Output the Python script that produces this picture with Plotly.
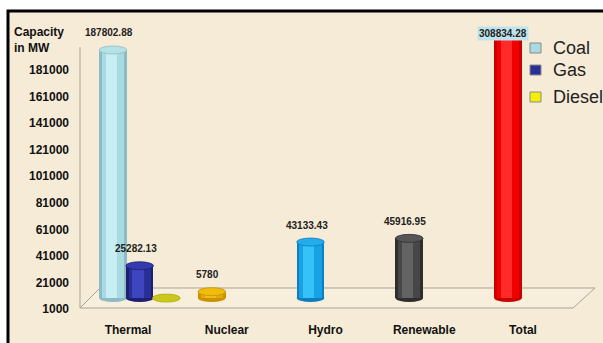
import plotly.graph_objects as go

# ---- data -------------------------------------------------------------
categories = ["Thermal", "Nuclear", "Hydro", "Renewable", "Total"]
thermal_series = ["Coal", "Gas", "Diesel"]
thermal_values = [187802.88, 25282.13, 918.89]
other_categories = ["Nuclear", "Hydro", "Renewable", "Total"]
other_values = [5780, 43133.43, 45916.95, 308834.28]
y_ticks = list(range(1000, 181001, 20000))

# ---- geometry (pixels of the 603x343 canvas) -------------------------
W, H = 603, 343
PLOT_L, PLOT_R = 80, 600
PLOT_TOP, PLOT_BOT = 35, 309
CAT_STEP = 98.75          # px between categories
LABEL_X0 = 128            # px of first category label
DEPTH_X, DEPTH_Y = 15, 11 # perspective shift of the bars vs. the axes
Y0, Y1 = 1000, 181000
PX_PER_UNIT = (309 - 70) / (Y1 - Y0)
BASE = 1000
BAR_W = 0.28
GROUP_STEP = 0.27
ELL_H = 4 / PX_PER_UNIT   # half height of cylinder caps, in data units

def px(x):
    return x / W

def py(y):
    return 1 - y / H

y_range = [BASE, BASE + (PLOT_BOT - PLOT_TOP) / PX_PER_UNIT]
y2_range = [y_range[0] - DEPTH_Y / PX_PER_UNIT, y_range[1] - DEPTH_Y / PX_PER_UNIT]
x_range = [-(LABEL_X0 - PLOT_L) / CAT_STEP, (PLOT_R - LABEL_X0) / CAT_STEP]
x2_range = [-(LABEL_X0 - DEPTH_X - PLOT_L) / CAT_STEP, (PLOT_R - LABEL_X0 + DEPTH_X) / CAT_STEP]

# colour sets: edge, body, highlight, cap
palette = {
    "Coal": ("#8BBCC5", "#A9DAE2", "#C6EEF3", "#B6E1E7"),
    "Gas": ("#1D2070", "#2A2F98", "#3D46BE", "#333AAE"),
    "Diesel": ("#B3B010", "#C9C617", "#D8D52A", "#CBC81C"),
    "Nuclear": ("#C99300", "#E4AA00", "#F2BE10", "#F0BC10"),
    "Hydro": ("#0C7FBE", "#18A2E4", "#35C2F8", "#22ACEC"),
    "Renewable": ("#2E2E2E", "#474747", "#636363", "#555555"),
    "Total": ("#C80000", "#F00000", "#FF2A2A", "#FF1010"),
}

bars = []
for i, (name, v) in enumerate(zip(thermal_series, thermal_values)):
    bars.append((name, 0 + i * GROUP_STEP, v))
for name, v in zip(other_categories, other_values):
    bars.append((name, categories.index(name), v))

fig = go.Figure()
# empty trace so that the labelled axes own a subplot
fig.add_trace(go.Scatter(x=[None], y=[None], xaxis="x", yaxis="y",
                         showlegend=False, hoverinfo="skip"))
shapes = []

# framed beige panel
shapes.append(dict(type="rect", xref="paper", yref="paper",
                   x0=px(8), x1=px(W + 10), y0=py(H + 10), y1=py(11),
                   fillcolor="#F6EBD6", line=dict(color="black", width=3),
                   layer="below"))
# floor of the 3D box
floor = "M {} {} L {} {} L {} {} L {} {} Z".format(
    px(80), py(308), px(100), py(288), px(595), py(288), px(573), py(308))
shapes.append(dict(type="path", xref="paper", yref="paper", path=floor,
                   fillcolor="#F8EEDC", line=dict(color="#A9A49B", width=1),
                   layer="below"))
# vertical value axis line
shapes.append(dict(type="line", xref="paper", yref="paper",
                   x0=px(80), x1=px(80), y0=py(308), y1=py(47),
                   line=dict(color="#A9A49B", width=1), layer="below"))

for name, xpos, v in bars:
    edge, body, hi, cap = palette[name]
    # bottom cap of the cylinder
    shapes.append(dict(type="circle", xref="x2", yref="y2",
                       x0=xpos - BAR_W / 2, x1=xpos + BAR_W / 2,
                       y0=BASE - ELL_H, y1=BASE + ELL_H,
                       fillcolor=edge, line=dict(width=0), layer="below"))
    # cylinder body drawn as shaded layers
    for wf, off, col in [(1.0, 0.0, edge), (0.8, 0.0, body), (0.4, -0.06, hi)]:
        fig.add_trace(go.Bar(
            x=[xpos + off * BAR_W], y=[v - BASE], base=[BASE],
            width=[BAR_W * wf], marker=dict(color=col, line=dict(width=0)),
            xaxis="x2", yaxis="y2", showlegend=False, hoverinfo="skip"))
    # top cap
    if v + ELL_H < y2_range[1]:
        shapes.append(dict(type="circle", xref="x2", yref="y2",
                           x0=xpos - BAR_W / 2, x1=xpos + BAR_W / 2,
                           y0=v - ELL_H, y1=v + ELL_H,
                           fillcolor=cap, line=dict(color=edge, width=0.8),
                           layer="above"))

annotations = []
label_font = dict(family="Liberation Sans, Arial", size=10, color="#222222", weight="bold")
for name, xpos, v in bars:
    if name == "Diesel":
        continue
    text = "{:.2f}".format(v) if v != int(v) else str(int(v))
    if v > y2_range[1]:
        annotations.append(dict(x=xpos, y=py(26.5), xref="x2", yref="paper",
                                text=text, showarrow=False, xshift=-5,
                                font=label_font, bgcolor="#BFE3EC", borderpad=1))
    else:
        annotations.append(dict(x=xpos, y=v, xref="x2", yref="y2", text=text,
                                showarrow=False, yshift=17, xshift=-4,
                                font=label_font))

# axis title
annotations.append(dict(x=px(12), y=py(23), xref="paper", yref="paper",
                        xanchor="left", yanchor="top", align="left",
                        text="Capacity<br>in MW", showarrow=False,
                        font=dict(family="Liberation Sans, Arial", size=12,
                                  color="#111111", weight="bold")))

# legend for the thermal series
legend_rows = [("Coal", 48), ("Gas", 70), ("Diesel", 97)]
for name, yc in legend_rows:
    shapes.append(dict(type="rect", xref="paper", yref="paper",
                       x0=px(530), x1=px(541), y0=py(yc + 5), y1=py(yc - 5),
                       fillcolor=palette[name][1] if name != "Diesel" else "#F2F000",
                       line=dict(color="#8A8A8A", width=1), layer="above"))
    annotations.append(dict(x=px(551), y=py(yc), xref="paper", yref="paper",
                            xanchor="left", yanchor="middle", text=name,
                            showarrow=False,
                            font=dict(family="Liberation Sans, Arial", size=18,
                                      color="#222222")))

dom_x = [px(PLOT_L), px(PLOT_R)]
dom_y = [py(PLOT_BOT), py(PLOT_TOP)]

fig.update_layout(
    width=W, height=H,
    margin=dict(l=0, r=0, t=0, b=0, autoexpand=False),
    paper_bgcolor="white",
    plot_bgcolor="rgba(0,0,0,0)",
    barmode="overlay",
    bargap=0,
    showlegend=False,
    shapes=shapes,
    annotations=annotations,
    xaxis=dict(domain=dom_x, range=x_range, tickmode="array",
               tickvals=list(range(len(categories))), ticktext=categories,
               tickfont=dict(family="Liberation Sans, Arial", size=12,
                             color="#111111", weight="bold"),
               showgrid=False, zeroline=False, showline=False, automargin=False,
               ticks="", ticklabelstandoff=12, fixedrange=True),
    yaxis=dict(domain=dom_y, range=y_range, tickmode="array",
               tickvals=y_ticks, ticktext=[str(t) for t in y_ticks],
               tickfont=dict(family="Liberation Sans, Arial", size=12,
                             color="#111111", weight="bold"),
               showgrid=False, zeroline=False, showline=False, automargin=False,
               ticks="", ticklabelstandoff=10, fixedrange=True),
    xaxis2=dict(domain=dom_x, range=x2_range, overlaying="x", visible=False,
                automargin=False, fixedrange=True),
    yaxis2=dict(domain=dom_y, range=y2_range, overlaying="y", visible=False,
                automargin=False, fixedrange=True),
)

fig.write_html("out.html")
